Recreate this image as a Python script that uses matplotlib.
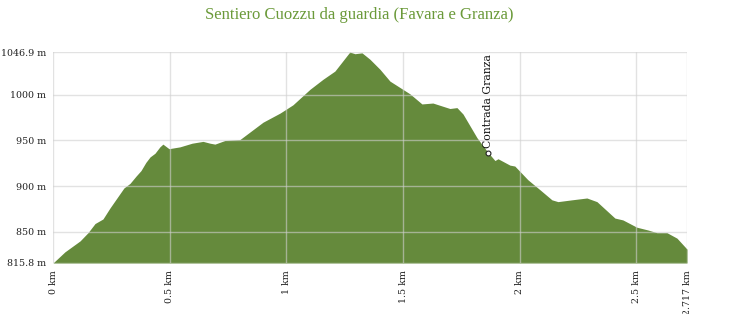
import matplotlib
matplotlib.use("Agg")
import matplotlib.pyplot as plt

title = "Sentiero Cuozzu da guardia (Favara e Granza)"

dist_km = [0.0, 0.051, 0.116, 0.150, 0.180, 0.214, 0.244, 0.274, 0.304, 0.330,
           0.356, 0.377, 0.398, 0.416, 0.437, 0.458, 0.471, 0.497, 0.544, 0.596,
           0.643, 0.673, 0.694, 0.737, 0.801, 0.900, 0.973, 1.028, 1.101, 1.157,
           1.208, 1.272, 1.294, 1.324, 1.358, 1.401, 1.444, 1.487, 1.530, 1.581,
           1.628, 1.701, 1.731, 1.757, 1.817, 1.864, 1.894, 1.907, 1.958, 1.979,
           2.035, 2.087, 2.138, 2.164, 2.224, 2.288, 2.331, 2.408, 2.442, 2.502,
           2.549, 2.588, 2.631, 2.674, 2.717]
elev_m = [815.8, 828, 840, 849, 859, 864, 876, 887, 898, 903,
          911, 917, 926, 932, 936, 943, 946, 941, 943, 947,
          949, 947, 946, 950, 951, 970, 980, 989, 1006, 1017,
          1026, 1046.9, 1045, 1046, 1039, 1028, 1015, 1008, 1001, 990,
          991, 985, 986, 979, 953, 937, 928, 930, 923, 922,
          907, 896, 885, 883, 885, 887, 883, 865, 863, 855,
          852, 849, 849, 843, 831]

x_ticks = [0, 0.5, 1, 1.5, 2, 2.5, 2.717]
x_labels = ["0 km", "0.5 km", "1 km", "1.5 km", "2 km", "2.5 km", "2.717 km"]
y_ticks = [815.8, 850, 900, 950, 1000, 1046.9]
y_labels = ["815.8 m", "850 m", "900 m", "950 m", "1000 m", "1046.9 m"]

poi_name = "Contrada Granza"
poi_km = 1.866
poi_m = 936

fill_color = "#658a3c"
serif = ["DejaVu Serif"]

fig = plt.figure(figsize=(7.38, 3.14), dpi=100)
ax = fig.add_axes([53/738, (314-263)/314, (687-53)/738, (263-52)/314])

ax.fill_between(dist_km, elev_m, y_ticks[0], color=fill_color, linewidth=0, zorder=1)
ax.set_xlim(x_ticks[0], x_ticks[-1])
ax.set_ylim(y_ticks[0], y_ticks[-1])

for s in ax.spines.values():
    s.set_visible(False)

ax.set_xticks(x_ticks)
ax.set_xticklabels(x_labels, rotation=90, fontsize=6.8, family=serif, color="#222222")
ax.set_yticks(y_ticks)
ax.set_yticklabels(y_labels, fontsize=6.8, family=serif, color="#222222")
ax.tick_params(length=0, pad=5)
ax.grid(True, color="#d0d0d0", alpha=0.6, linewidth=1, zorder=2)
ax.set_axisbelow(False)

ax.plot([poi_km], [poi_m], marker="o", markersize=3.5, markerfacecolor="white",
        markeredgecolor="#222222", markeredgewidth=0.8, linestyle="none", zorder=4, clip_on=False)
ax.annotate(poi_name, (poi_km, poi_m), xytext=(0, 4), textcoords="offset points",
            rotation=90, ha="center", va="bottom", fontsize=7.8, family=serif,
            color="#111111", zorder=5)

fig.text(0.487, 0.952, title, ha="center", va="center", fontsize=12,
         family=["Liberation Serif"], color="#6b9a3a")

fig.savefig("out.png", dpi=100)
